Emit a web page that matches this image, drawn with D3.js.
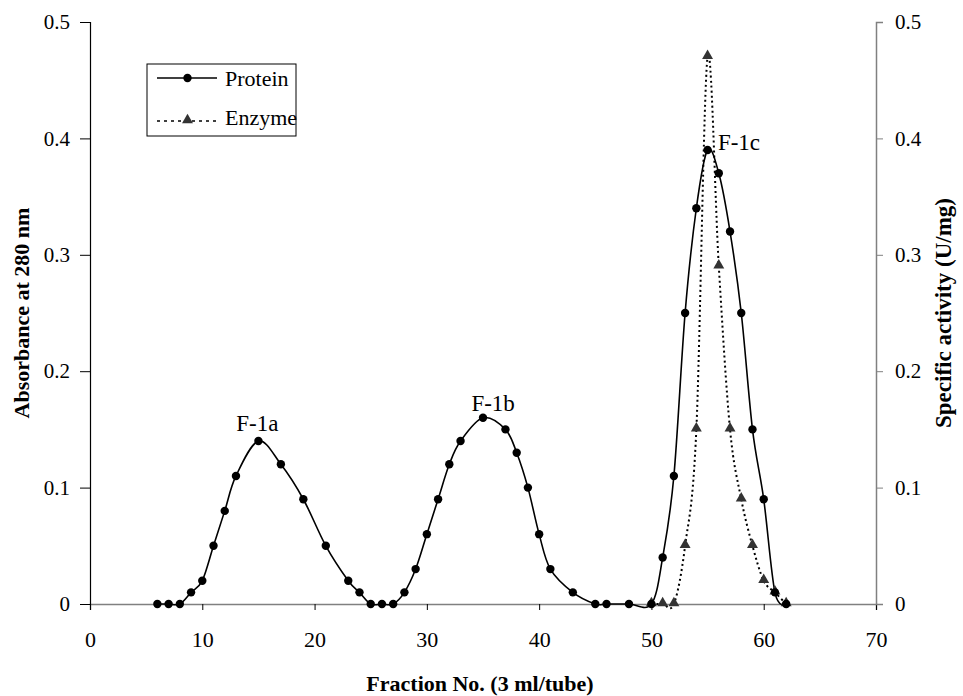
<!DOCTYPE html>
<html>
<head>
<meta charset="utf-8">
<script src="https://cdn.jsdelivr.net/npm/d3@7"></script>
<style>
    body { margin: 0; background: #fff; }
    svg text { font-family: "Liberation Serif", "Times New Roman", serif; fill: #000; }
</style>
</head>
<body>
<div id="chart"></div>
<script>
// protein absorbance (left axis)
let proteinFraction = [6, 7, 8, 9, 10, 11, 12, 13, 15, 17, 19, 21, 23, 24, 25, 26, 27, 28, 29, 30, 31, 32, 33, 35, 37, 38, 39, 40, 41, 43, 45, 46, 48, 50, 51, 52, 53, 54, 55, 56, 57, 58, 59, 60, 61, 62];
let proteinValue = [0, 0, 0, 0.01, 0.02, 0.05, 0.08, 0.11, 0.14, 0.12, 0.09, 0.05, 0.02, 0.01, 0, 0, 0, 0.01, 0.03, 0.06, 0.09, 0.12, 0.14, 0.16, 0.15, 0.13, 0.10, 0.06, 0.03, 0.01, 0, 0, 0, 0, 0.04, 0.11, 0.25, 0.34, 0.39, 0.37, 0.32, 0.25, 0.15, 0.09, 0.01, 0];

// enzyme specific activity (right axis)
let enzymeFraction = [50, 51, 52, 53, 54, 55, 56, 57, 58, 59, 60, 61, 62];
let enzymeValue = [0, 0, 0, 0.05, 0.15, 0.47, 0.29, 0.15, 0.09, 0.05, 0.02, 0.01, 0];

let xTicks = [0, 10, 20, 30, 40, 50, 60, 70];
let yTicks = [0, 0.1, 0.2, 0.3, 0.4, 0.5];
let seriesNames = ["Protein", "Enzyme"];
let peakLabels = [{label: "F-1a", x: 14.9, y: 0.149}, {label: "F-1b", x: 35.9, y: 0.166}, {label: "F-1c", x: 57.8, y: 0.39}];

let width = 963, height = 696;
let margin = {top: 22, right: 87, bottom: 92, left: 90};
let innerW = width - margin.left - margin.right;
let innerH = height - margin.top - margin.bottom;

let svg = d3.select("#chart").append("svg")
    .attr("width", width)
    .attr("height", height);

let g = svg.append("g")
    .attr("transform", `translate(${margin.left}, ${margin.top})`);

// scales
let x = d3.scaleLinear().domain([0, 70]).range([0, innerW]);
let yLeft = d3.scaleLinear().domain([0, 0.5]).range([innerH, 0]);
let yRight = d3.scaleLinear().domain([0, 0.5]).range([innerH, 0]);

let fmt = d => d === 0 ? "0" : d3.format(".1f")(d);

// x axis (gray line)
let xAxis = g.append("g")
    .attr("transform", `translate(0, ${innerH})`)
    .call(d3.axisBottom(x).tickValues(xTicks).tickSize(6).tickPadding(21).tickFormat(d3.format("d")));
xAxis.select(".domain").attr("stroke", "#808080").attr("stroke-width", 1.5);
xAxis.selectAll(".tick line").attr("stroke", "#000");
xAxis.selectAll("text")
    .style("font-size", "22px");

// left axis (black)
let leftAxis = g.append("g")
    .call(d3.axisLeft(yLeft).tickValues(yTicks).tickSize(10).tickPadding(10).tickFormat(fmt));
leftAxis.select(".domain").attr("stroke", "#000").attr("stroke-width", 1.2);
leftAxis.selectAll("text")
    .style("font-size", "21px");

// right axis (gray)
let rightAxis = g.append("g")
    .attr("transform", `translate(${innerW}, 0)`)
    .call(d3.axisRight(yRight).tickValues(yTicks).tickSize(7).tickPadding(12).tickFormat(fmt));
rightAxis.select(".domain").attr("stroke", "#808080").attr("stroke-width", 1.5);
rightAxis.selectAll(".tick line").attr("stroke", "#808080");
rightAxis.selectAll("text")
    .style("font-size", "21px");

// axis titles
svg.append("text")
    .attr("x", margin.left + innerW / 2 - 3)
    .attr("y", 691)
    .attr("text-anchor", "middle")
    .style("font-size", "22px")
    .style("font-weight", "bold")
    .text("Fraction No. (3 ml/tube)");

svg.append("text")
    .attr("transform", `translate(29, ${margin.top + innerH / 2}) rotate(-90)`)
    .attr("text-anchor", "middle")
    .style("font-size", "22px")
    .style("font-weight", "bold")
    .text("Absorbance at 280 nm");

svg.append("text")
    .attr("transform", `translate(951, ${margin.top + innerH / 2}) rotate(-90)`)
    .attr("text-anchor", "middle")
    .style("font-size", "23px")
    .style("font-weight", "bold")
    .text("Specific activity (U/mg)");

// lines
let proteinData = proteinFraction.map((f, i) => ({f: f, v: proteinValue[i]}));
let enzymeData = enzymeFraction.map((f, i) => ({f: f, v: enzymeValue[i]}));

let proteinLine = d3.line()
    .x(d => x(d.f))
    .y(d => yLeft(d.v))
    .curve(d3.curveCardinal.tension(0));

let enzymeLine = d3.line()
    .x(d => x(d.f))
    .y(d => yRight(d.v))
    .curve(d3.curveCardinal.tension(0));

g.append("path")
    .datum(enzymeData)
    .attr("fill", "none")
    .attr("stroke", "#000")
    .attr("stroke-width", 2)
    .attr("stroke-dasharray", "2,3")
    .attr("d", enzymeLine);

g.append("path")
    .datum(proteinData)
    .attr("fill", "none")
    .attr("stroke", "#000")
    .attr("stroke-width", 1.6)
    .attr("d", proteinLine);

// markers
let triangle = d3.symbol().type(d3.symbolTriangle).size(52);

g.selectAll(".enzyme-pt")
    .data(enzymeData)
    .enter()
    .append("path")
    .attr("class", "enzyme-pt")
    .attr("transform", d => `translate(${x(d.f)}, ${yRight(d.v) - 1})`)
    .attr("d", triangle)
    .attr("fill", "#333");

g.selectAll(".protein-pt")
    .data(proteinData)
    .enter()
    .append("circle")
    .attr("class", "protein-pt")
    .attr("cx", d => x(d.f))
    .attr("cy", d => yLeft(d.v))
    .attr("r", 4.2)
    .attr("fill", "#000");

// peak labels
g.selectAll(".peak-label")
    .data(peakLabels)
    .enter()
    .append("text")
    .attr("class", "peak-label")
    .attr("x", d => x(d.x))
    .attr("y", d => yLeft(d.y))
    .attr("text-anchor", "middle")
    .style("font-size", "23px")
    .text(d => d.label);

// legend
let legend = svg.append("g")
    .attr("transform", "translate(147, 64)");

legend.append("rect")
    .attr("width", 149)
    .attr("height", 72)
    .attr("fill", "#fff")
    .attr("stroke", "#000")
    .attr("stroke-width", 1);

legend.append("line")
    .attr("x1", 10).attr("x2", 70)
    .attr("y1", 14).attr("y2", 14)
    .attr("stroke", "#000")
    .attr("stroke-width", 1.6);
legend.append("circle")
    .attr("cx", 40.5).attr("cy", 14).attr("r", 4.2)
    .attr("fill", "#000");

legend.append("line")
    .attr("x1", 10).attr("x2", 70)
    .attr("y1", 57).attr("y2", 57)
    .attr("stroke", "#000")
    .attr("stroke-width", 1.6)
    .attr("stroke-dasharray", "3,4");
legend.append("path")
    .attr("transform", "translate(40.5, 56)")
    .attr("d", triangle)
    .attr("fill", "#333");

legend.selectAll(".legend-text")
    .data(seriesNames)
    .enter()
    .append("text")
    .attr("class", "legend-text")
    .attr("x", 78)
    .attr("y", (d, i) => 22 + i * 39)
    .style("font-size", "22px")
    .text(d => d);
</script>
</body>
</html>
